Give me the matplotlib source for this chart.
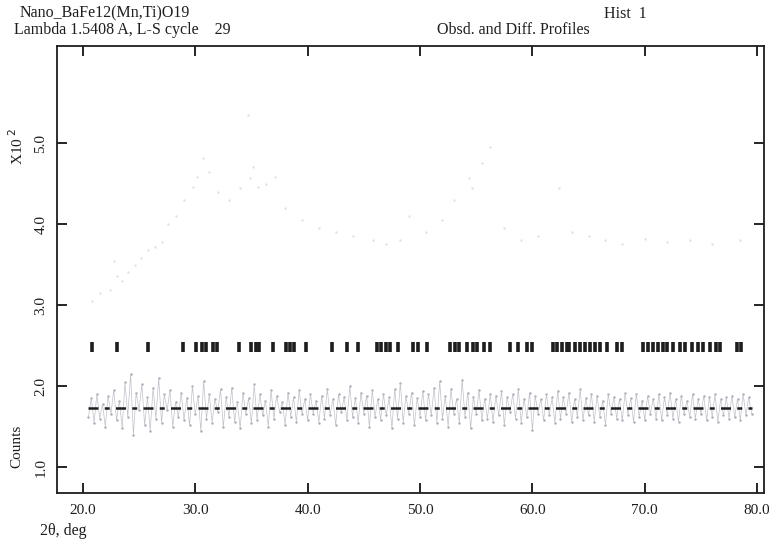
"""
GSAS-style Rietveld plot: observed and difference profiles
"""

import numpy as np
import matplotlib.pyplot as plt

# ============================================================================
# Data (counts in units of 100)
# ============================================================================

# observed profile (very faint points in the scan)
obs_tth = [20.8, 21.5, 22.4, 22.8, 23.0, 23.5, 24.0, 24.6, 25.2, 25.8, 26.4, 27.0,
           27.6, 28.3, 29.0, 29.8, 30.2, 30.7, 31.2, 32.0, 33.0, 34.0, 34.7, 34.9,
           35.1, 35.6, 36.3, 37.1, 38.0, 39.5, 41.0, 42.5, 44.0, 45.8, 47.0, 48.2,
           49.0, 50.5, 52.0, 53.0, 54.4, 54.6, 55.5, 56.2, 57.5, 59.0, 60.5, 62.4,
           63.5, 65.0, 66.5, 68.0, 70.0, 72.0, 74.0, 76.0, 78.5]
obs_cnt = [3.05, 3.15, 3.19, 3.54, 3.36, 3.30, 3.41, 3.50, 3.58, 3.68, 3.72, 3.78,
           4.00, 4.10, 4.30, 4.46, 4.58, 4.82, 4.65, 4.40, 4.30, 4.45, 5.35, 4.57,
           4.70, 4.46, 4.50, 4.58, 4.20, 4.05, 3.95, 3.90, 3.85, 3.80, 3.75, 3.80,
           4.10, 3.90, 4.05, 4.30, 4.57, 4.45, 4.75, 4.95, 3.95, 3.80, 3.85, 4.45,
           3.90, 3.85, 3.80, 3.75, 3.82, 3.78, 3.80, 3.76, 3.80]

# difference profile, 20.5 .. 79.5 deg in 0.25 deg steps
diff_start, diff_step = 20.5, 0.25
diff_cnt = [
    1.62, 1.85, 1.55, 1.90, 1.60, 1.78, 1.50, 1.88, 1.66, 1.95, 1.58, 1.82,
    1.48, 2.05, 1.62, 2.15, 1.40, 1.92, 1.70, 2.02, 1.52, 1.86, 1.45, 1.98,
    1.60, 2.10, 1.55, 1.90, 1.70, 1.95, 1.50, 1.80, 1.62, 1.92, 1.58, 1.85,
    1.52, 2.00, 1.65, 1.88, 1.45, 2.06, 1.60, 1.90, 1.55, 1.84, 1.68, 1.96,
    1.50, 1.86, 1.62, 1.98, 1.56, 1.80, 1.48, 1.92, 1.66, 1.85, 1.54, 2.02,
    1.58, 1.90, 1.64, 1.82, 1.50, 1.95, 1.60, 1.88, 1.68, 1.80, 1.52, 1.92,
    1.62, 1.86, 1.56, 1.95, 1.65, 1.84, 1.58, 1.90, 1.66, 1.82, 1.55, 1.88,
    1.60, 1.96, 1.64, 1.84, 1.52, 1.90, 1.68, 1.86, 1.58, 2.00, 1.62, 1.85,
    1.55, 1.92, 1.66, 1.88, 1.50, 1.95, 1.62, 1.84, 1.58, 1.90, 1.64, 1.86,
    1.48, 1.96, 1.60, 2.04, 1.55, 1.88, 1.66, 1.92, 1.52, 1.85, 1.62, 1.94,
    1.58, 1.90, 1.64, 1.98, 1.55, 2.06, 1.60, 1.88, 1.50, 1.96, 1.66, 1.84,
    1.54, 2.08, 1.62, 1.92, 1.48, 1.86, 1.66, 1.95, 1.58, 1.84, 1.60, 1.90,
    1.56, 1.88, 1.64, 1.94, 1.52, 1.86, 1.68, 1.90, 1.60, 1.96, 1.55, 1.84,
    1.62, 1.92, 1.46, 1.88, 1.66, 1.84, 1.58, 1.90, 1.64, 1.86, 1.55, 1.94,
    1.60, 1.86, 1.66, 1.92, 1.56, 1.84, 1.62, 1.96, 1.58, 1.85, 1.64, 1.90,
    1.56, 1.88, 1.62, 1.82, 1.52, 1.90, 1.66, 1.86, 1.60, 1.84, 1.58, 1.92,
    1.64, 1.85, 1.56, 1.90, 1.62, 1.82, 1.58, 1.88, 1.66, 1.84, 1.60, 1.90,
    1.58, 1.86, 1.64, 1.92, 1.60, 1.84, 1.56, 1.88, 1.66, 1.82, 1.62, 1.90,
    1.60, 1.84, 1.66, 1.88, 1.58, 1.86, 1.62, 1.90, 1.56, 1.84, 1.64, 1.86,
    1.60, 1.88, 1.62, 1.84, 1.58, 1.90, 1.64, 1.86, 1.66,
]
diff_zero = 1.73

# reflection positions (tick row)
refl_tth = [20.8, 23.0, 25.8, 28.9, 30.1, 30.6, 31.0, 31.6, 31.9, 33.9, 35.0, 35.4,
            35.7, 36.9, 38.1, 38.4, 38.8, 39.9, 42.2, 43.5, 44.5, 46.2, 46.5, 47.0,
            47.3, 48.0, 49.4, 49.8, 50.6, 52.7, 53.1, 53.5, 54.2, 54.7, 55.1, 55.7,
            56.2, 58.0, 58.7, 59.5, 60.0, 61.8, 62.2, 62.6, 63.1, 63.3, 63.8, 64.2,
            64.7, 65.1, 65.6, 66.0, 66.6, 67.5, 68.0, 69.8, 70.3, 70.7, 71.2, 71.6,
            72.0, 72.5, 73.1, 73.6, 74.2, 74.7, 75.2, 75.8, 76.3, 76.7, 78.2, 78.6]
refl_level = 2.48

x_ticks = [20, 30, 40, 50, 60, 70, 80]
y_ticks = [1, 2, 3, 4, 5]

# ============================================================================
# Plot
# ============================================================================

plt.rcParams['font.family'] = 'Liberation Serif'
ink = '#1e1e1e'

fig = plt.figure(figsize=(7.69, 5.41), dpi=100)
ax = fig.add_axes([0.0741, 0.0887, 0.9193, 0.8263])

# observed points
ax.scatter(obs_tth, obs_cnt, s=3, color='#e2e2e6', linewidths=0)

# difference curve: thin strokes plus dots
diff_tth = diff_start + diff_step * np.arange(len(diff_cnt))
ax.plot(diff_tth, diff_cnt, color='#c0c0cc', lw=0.5)
ax.scatter(diff_tth, diff_cnt, s=3, color='#a8a8b6', linewidths=0)
ax.plot([diff_tth[0], diff_tth[-1]], [diff_zero, diff_zero], color=ink,
        lw=1.8, linestyle=(0, (4, 2.5, 2, 2.5)))

# reflection markers
ax.scatter(refl_tth, [refl_level] * len(refl_tth), marker='|', s=45,
           color=ink, linewidths=2.6)

ax.set_xlim(17.7, 80.6)
ax.set_ylim(0.68, 6.2)

ax.set_xticks(x_ticks)
ax.set_xticklabels([f'{v:.1f}' for v in x_ticks], fontsize=11, color=ink)
ax.set_yticks(y_ticks)
ax.set_yticklabels([f'{v:.1f}' for v in y_ticks], fontsize=11, color=ink,
                   rotation=90, va='center')
ax.tick_params(axis='x', direction='in', length=7, width=1.2, top=True, pad=8)
ax.tick_params(axis='y', direction='in', length=7, width=1.2, right=True, pad=7)
for sp in ax.spines.values():
    sp.set_linewidth(1.3)
    sp.set_color(ink)

# axis captions
fig.text(0.022, 0.73, 'X10$^{\\ 2}$', rotation=90, fontsize=11, color=ink,
         ha='center', va='center')
fig.text(0.022, 0.175, 'Counts', rotation=90, fontsize=11, color=ink,
         ha='center', va='center')
fig.text(0.052, 0.004, '2\u03b8, deg', fontsize=11.5, color=ink, ha='left', va='bottom')

# header lines
fig.text(0.026, 0.975, 'Nano_BaFe12(Mn,Ti)O19', fontsize=11.5, color=ink, va='center')
fig.text(0.785, 0.975, 'Hist  1', fontsize=11.5, color=ink, va='center')
fig.text(0.018, 0.944, 'Lambda 1.5408 A, L-S cycle    29', fontsize=11.5, color=ink,
         va='center')
fig.text(0.568, 0.944, 'Obsd. and Diff. Profiles', fontsize=11.5, color=ink,
         va='center')

plt.savefig('out.png', dpi=100)
plt.close()
